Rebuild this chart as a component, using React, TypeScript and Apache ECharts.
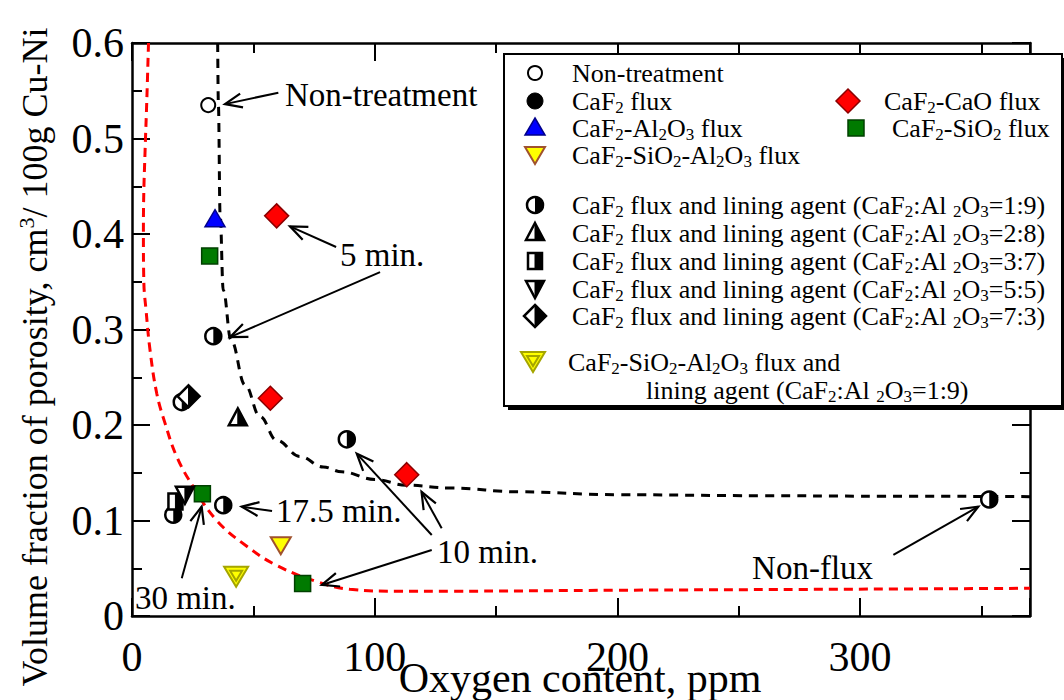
import React, { useEffect, useRef } from 'react';
import * as echarts from 'echarts';

const FONT = '"Liberation Serif", "Times New Roman", Times, serif';

// Axis ranges and tick labels
const X_MAX = 370;
const xTickLabels = [0, 100, 200, 300];
const yTickLabels = [0, 0.1, 0.2, 0.3, 0.4, 0.5, 0.6];

// Measured points [oxygen ppm, porosity]
const nonTreatment: number[][] = [[31.4, 0.535]];
const caf2Al2o3Flux: number[][] = [[34.2, 0.415]];
const caf2CaoFlux: number[][] = [[59.6, 0.419], [57.0, 0.228], [113.2, 0.148]];
const caf2Sio2Flux: number[][] = [[32.0, 0.377], [29.0, 0.128], [70.3, 0.034]];
const caf2Sio2Al2o3Flux: number[][] = [[61.3, 0.074]];
const lining19: number[][] = [[20.5, 0.224], [33.5, 0.293], [88.5, 0.185], [17.0, 0.106], [37.6, 0.116], [353.2, 0.122]];
const lining28: number[][] = [[43.6, 0.207]];
const lining37: number[][] = [[17.9, 0.12]];
const lining55: number[][] = [[21.8, 0.127]];
const lining73: number[][] = [[23.3, 0.23]];
const sialLining19: number[][] = [[42.9, 0.041]];

// Trend curves
const nonFluxTrend: number[][] = [
  [35.3, 0.6], [35.6, 0.535], [36.3, 0.42], [37.6, 0.341], [40.8, 0.289], [46.6, 0.242],
  [52.7, 0.209], [59.6, 0.184], [69.2, 0.167], [78.8, 0.156], [86.4, 0.151], [100, 0.143],
  [113, 0.137], [131, 0.134], [160, 0.13], [200, 0.127], [260, 0.126], [300, 0.1255], [370, 0.125],
];
const fluxTrend: number[][] = [
  [6.8, 0.6], [6.1, 0.54], [5.4, 0.488], [4.8, 0.436], [4.7, 0.4], [4.9, 0.348], [5.8, 0.32],
  [7.4, 0.279], [10.2, 0.233], [13.6, 0.202], [18.4, 0.167], [25.3, 0.135], [34.9, 0.1],
  [47.3, 0.073], [59.6, 0.053], [76.1, 0.036], [89.8, 0.028], [110, 0.026], [131, 0.026],
  [200, 0.027], [290, 0.028], [370, 0.029],
];

// Annotation labels and arrows (data coordinates)
const noteTexts: { text: string; at: number[] }[] = [
  { text: 'Non-treatment', at: [63.0, 0.5455] },
  { text: '5 min.', at: [85.7, 0.378] },
  { text: '17.5 min.', at: [59.3, 0.11] },
  { text: '10 min.', at: [125.7, 0.067] },
  { text: '30 min.', at: [1.2, 0.0188] },
  { text: 'Non-flux', at: [255.5, 0.05] },
];
const noteArrows: number[][][] = [
  [[60.3, 0.548], [38.3, 0.536]],
  [[84.1, 0.3864], [65.1, 0.408]],
  [[102.2, 0.36], [40.4, 0.292]],
  [[57.7, 0.11], [45.2, 0.1145]],
  [[123.5, 0.0848], [92.6, 0.17]],
  [[127.6, 0.0918], [119.3, 0.13]],
  [[123.5, 0.0691], [78.2, 0.0325]],
  [[20.5, 0.0395], [28.7, 0.1145]],
  [[313.7, 0.0639], [348.7, 0.1145]],
];

type Kind =
  | 'open' | 'filled' | 'triUp' | 'triDown' | 'diamond' | 'square'
  | 'halfCircle' | 'halfTri' | 'halfSquare' | 'halfTriDown' | 'halfDiamond' | 'doubleTri';

const BLK = '#000';
const WHITE = '#fff';

function markerShapes(kind: Kind, cx: number, cy: number): any[] {
  switch (kind) {
    case 'open':
      return [{ type: 'circle', shape: { cx, cy, r: 7 }, style: { fill: WHITE, stroke: BLK, lineWidth: 2 } }];
    case 'filled':
      return [{ type: 'circle', shape: { cx, cy, r: 8 }, style: { fill: BLK, stroke: BLK, lineWidth: 1 } }];
    case 'triUp':
      return [{ type: 'polygon', shape: { points: [[cx, cy - 10], [cx + 10, cy + 7], [cx - 10, cy + 7]] }, style: { fill: '#0000ff', stroke: '#00008b', lineWidth: 1.5 } }];
    case 'triDown':
      return [{ type: 'polygon', shape: { points: [[cx - 10, cy - 8], [cx + 10, cy - 8], [cx, cy + 9]] }, style: { fill: '#ffff00', stroke: '#a0522d', lineWidth: 2 } }];
    case 'diamond':
      return [{ type: 'polygon', shape: { points: [[cx, cy - 12], [cx + 12, cy], [cx, cy + 12], [cx - 12, cy]] }, style: { fill: '#ff0000', stroke: '#8b0000', lineWidth: 1.5 } }];
    case 'square':
      return [{ type: 'rect', shape: { x: cx - 8, y: cy - 8, width: 16, height: 16 }, style: { fill: '#007a00', stroke: '#004000', lineWidth: 1.5 } }];
    case 'halfCircle':
      return [
        { type: 'circle', shape: { cx, cy, r: 8 }, style: { fill: WHITE, stroke: BLK, lineWidth: 2.5 } },
        { type: 'sector', shape: { cx, cy, r0: 0, r: 8, startAngle: -Math.PI / 2, endAngle: Math.PI / 2, clockwise: true }, style: { fill: BLK } },
      ];
    case 'halfTri':
      return [
        { type: 'polygon', shape: { points: [[cx, cy - 10], [cx + 9, cy + 7], [cx - 9, cy + 7]] }, style: { fill: WHITE, stroke: BLK, lineWidth: 2.5 } },
        { type: 'polygon', shape: { points: [[cx, cy - 10], [cx + 9, cy + 7], [cx, cy + 7]] }, style: { fill: BLK, stroke: BLK, lineWidth: 1 } },
      ];
    case 'halfSquare':
      return [
        { type: 'rect', shape: { x: cx - 7, y: cy - 8, width: 14, height: 16 }, style: { fill: WHITE, stroke: BLK, lineWidth: 2.5 } },
        { type: 'rect', shape: { x: cx, y: cy - 8, width: 7, height: 16 }, style: { fill: BLK, stroke: BLK, lineWidth: 1 } },
      ];
    case 'halfTriDown':
      return [
        { type: 'polygon', shape: { points: [[cx - 9, cy - 8], [cx + 9, cy - 8], [cx, cy + 9]] }, style: { fill: WHITE, stroke: BLK, lineWidth: 2.5 } },
        { type: 'polygon', shape: { points: [[cx, cy - 8], [cx + 9, cy - 8], [cx, cy + 9]] }, style: { fill: BLK, stroke: BLK, lineWidth: 1 } },
      ];
    case 'halfDiamond':
      return [
        { type: 'polygon', shape: { points: [[cx, cy - 11], [cx + 11, cy], [cx, cy + 11], [cx - 11, cy]] }, style: { fill: WHITE, stroke: BLK, lineWidth: 2.5 } },
        { type: 'polygon', shape: { points: [[cx, cy - 11], [cx + 11, cy], [cx, cy + 11]] }, style: { fill: BLK, stroke: BLK, lineWidth: 1 } },
      ];
    case 'doubleTri':
      return [
        { type: 'polygon', shape: { points: [[cx - 12, cy - 10], [cx + 12, cy - 10], [cx, cy + 10]] }, style: { fill: '#ffff00', stroke: '#a5a500', lineWidth: 2 } },
        { type: 'polygon', shape: { points: [[cx - 6, cy - 6], [cx + 6, cy - 6], [cx, cy + 4]] }, style: { fill: 'none', stroke: '#a5a500', lineWidth: 2 } },
      ];
  }
  return [];
}

// "_x" -> subscript, "^x" -> superscript, using rich text styles base / baseSub / baseSup
function richText(str: string, base: string): string {
  let out = '';
  let buf = '';
  for (let i = 0; i < str.length; i++) {
    const c = str[i];
    if ((c === '_' || c === '^') && i + 1 < str.length) {
      if (buf) { out += `{${base}|${buf}}`; buf = ''; }
      out += `{${base}${c === '_' ? 'Sub' : 'Sup'}|${str[i + 1]}}`;
      i++;
    } else {
      buf += c;
    }
  }
  if (buf) out += `{${base}|${buf}}`;
  return out;
}

const RICH = {
  lg: { fontFamily: FONT, fontSize: 26, lineHeight: 30, color: BLK },
  lgSub: { fontFamily: FONT, fontSize: 17, lineHeight: 12, verticalAlign: 'bottom', color: BLK },
  ax: { fontFamily: FONT, fontSize: 36, lineHeight: 40, color: BLK },
  axSup: { fontFamily: FONT, fontSize: 22, lineHeight: 14, verticalAlign: 'top', color: BLK },
};

// Legend entries: marker kind, marker position, text and its left edge
const legendEntries: { kind: Kind | null; mx: number; my: number; label: string; tx: number }[] = [
  { kind: 'open', mx: 535, my: 73, label: 'Non-treatment', tx: 572 },
  { kind: 'filled', mx: 535, my: 101, label: 'CaF_2 flux', tx: 572 },
  { kind: 'diamond', mx: 848, my: 101, label: 'CaF_2-CaO flux', tx: 884 },
  { kind: 'triUp', mx: 535, my: 128, label: 'CaF_2-Al_2O_3 flux', tx: 572 },
  { kind: 'square', mx: 856, my: 128, label: 'CaF_2-SiO_2 flux', tx: 892 },
  { kind: 'triDown', mx: 535, my: 155, label: 'CaF_2-SiO_2-Al_2O_3 flux', tx: 572 },
  { kind: 'halfCircle', mx: 535, my: 205, label: 'CaF_2 flux and lining agent (CaF_2:Al _2O_3=1:9)', tx: 572 },
  { kind: 'halfTri', mx: 535, my: 233, label: 'CaF_2 flux and lining agent (CaF_2:Al _2O_3=2:8)', tx: 572 },
  { kind: 'halfSquare', mx: 535, my: 261, label: 'CaF_2 flux and lining agent (CaF_2:Al _2O_3=3:7)', tx: 572 },
  { kind: 'halfTriDown', mx: 535, my: 289, label: 'CaF_2 flux and lining agent (CaF_2:Al _2O_3=5:5)', tx: 572 },
  { kind: 'halfDiamond', mx: 535, my: 316, label: 'CaF_2 flux and lining agent (CaF_2:Al _2O_3=7:3)', tx: 572 },
  { kind: 'doubleTri', mx: 533, my: 362, label: 'CaF_2-SiO_2-Al_2O_3 flux and', tx: 568 },
  { kind: null, mx: 0, my: 390, label: 'lining agent (CaF_2:Al _2O_3=1:9)', tx: 646 },
];

function markerSeries(name: string, kind: Kind, data: number[][]) {
  return {
    type: 'custom',
    name,
    xAxisIndex: 0,
    yAxisIndex: 0,
    z: 5,
    data,
    renderItem: (_params: any, api: any) => {
      const p = api.coord([api.value(0), api.value(1)]);
      return { type: 'group', children: markerShapes(kind, p[0], p[1]) };
    },
  };
}

function xAxisDef(position: 'bottom' | 'top', interval: number, tickLen: number, withLabels: boolean, withLine: boolean) {
  return {
    type: 'value',
    position,
    min: 0,
    max: X_MAX,
    interval,
    axisLine: { show: withLine, onZero: false, lineStyle: { color: BLK, width: 2.5 } },
    axisTick: { show: true, inside: true, length: tickLen, lineStyle: { color: BLK, width: 2 } },
    axisLabel: {
      show: withLabels,
      margin: 20,
      fontFamily: FONT,
      fontSize: 42,
      color: BLK,
      formatter: (v: number) => (xTickLabels.indexOf(v) >= 0 ? String(v) : ''),
    },
    splitLine: { show: false },
  };
}

function yAxisDef(position: 'left' | 'right', withLabels: boolean) {
  return {
    type: 'value',
    position,
    min: 0,
    max: 0.6,
    interval: 0.1,
    axisLine: { show: true, onZero: false, lineStyle: { color: BLK, width: 2.5 } },
    axisTick: { show: true, inside: true, length: 18, lineStyle: { color: BLK, width: 2 } },
    minorTick: { show: true, splitNumber: 2, length: 10, lineStyle: { color: BLK, width: 2 } },
    axisLabel: {
      show: withLabels,
      margin: 8,
      fontFamily: FONT,
      fontSize: 42,
      color: BLK,
      formatter: (v: number) => {
        const r = Math.round(v * 10) / 10;
        return yTickLabels.indexOf(r) >= 0 ? (r === 0 ? '0' : r.toFixed(1)) : '';
      },
    },
    splitLine: { show: false },
    minorSplitLine: { show: false },
  };
}

function buildOption() {
  return {
    animation: false,
    backgroundColor: '#fff',
    grid: { left: 132, top: 43, width: 898, height: 573, containLabel: false },
    xAxis: [
      xAxisDef('bottom', 100, 18, true, true),
      xAxisDef('bottom', 50, 10, false, false),
      xAxisDef('top', 100, 18, false, true),
      xAxisDef('top', 50, 10, false, false),
    ],
    yAxis: [yAxisDef('left', true), yAxisDef('right', false)],
    series: [
      {
        type: 'line',
        name: 'non-flux trend',
        data: nonFluxTrend,
        smooth: 0.4,
        smoothMonotone: 'x',
        symbol: 'none',
        z: 2,
        lineStyle: { color: BLK, width: 3, type: [9, 7] },
      },
      {
        type: 'line',
        name: 'flux trend',
        data: fluxTrend,
        smooth: 0.4,
        symbol: 'none',
        z: 2,
        lineStyle: { color: '#ff0000', width: 3, type: [9, 6] },
      },
      markerSeries('Non-treatment', 'open', nonTreatment),
      markerSeries('CaF2-Al2O3 flux', 'triUp', caf2Al2o3Flux),
      markerSeries('CaF2-SiO2 flux', 'square', caf2Sio2Flux),
      markerSeries('CaF2-SiO2-Al2O3 flux', 'triDown', caf2Sio2Al2o3Flux),
      markerSeries('Lining 1:9', 'halfCircle', lining19),
      markerSeries('Lining 2:8', 'halfTri', lining28),
      markerSeries('Lining 3:7', 'halfSquare', lining37),
      markerSeries('Lining 5:5', 'halfTriDown', lining55),
      markerSeries('Lining 7:3', 'halfDiamond', lining73),
      markerSeries('CaF2-CaO flux', 'diamond', caf2CaoFlux),
      markerSeries('CaF2-SiO2-Al2O3 flux and lining', 'doubleTri', sialLining19),
    ],
  };
}

// Legend box drawn on top of the plot frame; every element carries its own z
function legendGraphics(): any[] {
  const Z = 60;
  const els: any[] = [
    { type: 'rect', z: Z, shape: { x: 508, y: 58, width: 558, height: 352 }, style: { fill: BLK } },
    { type: 'rect', z: Z, shape: { x: 504, y: 54, width: 558, height: 352 }, style: { fill: WHITE, stroke: BLK, lineWidth: 2 } },
  ];
  legendEntries.forEach((e) => {
    if (e.kind) markerShapes(e.kind, e.mx, e.my).forEach((s) => els.push({ ...s, z: Z + 1 }));
    els.push({
      type: 'text',
      z: Z + 1,
      x: e.tx,
      y: e.my,
      style: { text: richText(e.label, 'lg'), rich: RICH, align: 'left', verticalAlign: 'middle' },
    });
  });
  return els;
}

function titleGraphics(): any[] {
  return [
    {
      type: 'text',
      z: 50,
      x: 35,
      y: 357,
      rotation: Math.PI / 2,
      style: {
        text: richText('Volume fraction of porosity, cm^3/ 100g Cu-Ni', 'ax'),
        rich: RICH,
        align: 'center',
        verticalAlign: 'middle',
      },
    },
    {
      type: 'text',
      z: 50,
      x: 580,
      y: 678,
      style: {
        text: 'Oxygen content, ppm',
        fontFamily: FONT,
        fontSize: 42,
        fill: BLK,
        align: 'center',
        verticalAlign: 'middle',
      },
    },
  ];
}

function annotationGraphics(toPx: (p: number[]) => number[]): any[] {
  const out: any[] = [];
  noteTexts.forEach((n) => {
    const p = toPx(n.at);
    out.push({
      type: 'text',
      z: 40,
      x: p[0],
      y: p[1],
      style: { text: n.text, fontFamily: FONT, fontSize: 33, fill: BLK, align: 'left', verticalAlign: 'middle' },
    });
  });
  noteArrows.forEach(([from, to]) => {
    const a = toPx(from);
    const b = toPx(to);
    const dx = b[0] - a[0];
    const dy = b[1] - a[1];
    const len = Math.sqrt(dx * dx + dy * dy) || 1;
    const ux = dx / len;
    const uy = dy / len;
    const L = 17;
    const W = 7;
    const h1 = [b[0] - ux * L - uy * W, b[1] - uy * L + ux * W];
    const h2 = [b[0] - ux * L + uy * W, b[1] - uy * L - ux * W];
    out.push({ type: 'line', z: 40, shape: { x1: a[0], y1: a[1], x2: b[0], y2: b[1] }, style: { stroke: BLK, lineWidth: 2 } });
    out.push({ type: 'polyline', z: 40, shape: { points: [h1, b, h2] }, style: { stroke: BLK, lineWidth: 2.2, fill: 'none' } });
  });
  return out;
}

export default function App() {
  const ref = useRef<HTMLDivElement>(null);
  useEffect(() => {
    document.body.style.margin = '0';
    if (!ref.current) return;
    const chart = echarts.init(ref.current, null, { renderer: 'svg' });
    chart.setOption(buildOption() as any);
    const toPx = (p: number[]) => chart.convertToPixel({ xAxisIndex: 0, yAxisIndex: 0 } as any, p) as unknown as number[];
    chart.setOption({ graphic: [...titleGraphics(), ...annotationGraphics(toPx), ...legendGraphics()] } as any);
    return () => chart.dispose();
  }, []);
  return <div ref={ref} style={{ width: 1064, height: 700, background: '#fff' }} />;
}
